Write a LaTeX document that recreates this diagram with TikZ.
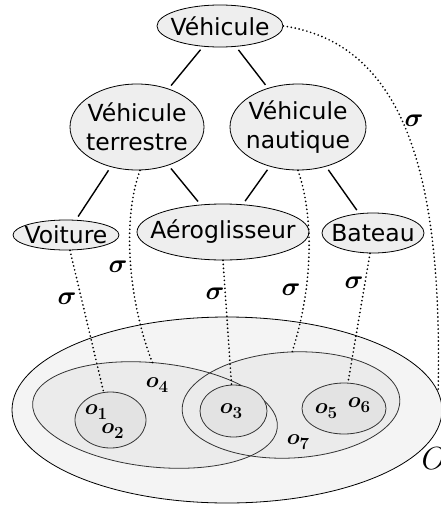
\RequirePackage{fix-cm}
\documentclass[tikz,border=0pt]{standalone}
\usepackage{fontspec}
\setmainfont{DejaVu Sans}
\usepackage{bm}
\usetikzlibrary{shapes.geometric}
\definecolor{clsfill}{HTML}{EEEEEE}
\definecolor{bigfill}{HTML}{F4F4F4}
\definecolor{setfill}{HTML}{EBEBEB}
\definecolor{innerfill}{HTML}{E3E3E3}
\definecolor{setline}{HTML}{333333}
\newcommand{\objlab}[1]{$\bm{o}$\raisebox{-5pt}{\fontsize{17}{19}\selectfont$\bm{#1}$}}
\begin{document}
\begin{tikzpicture}[x=1pt,y=-1pt,
  cls/.style={draw, ellipse, fill=clsfill, line width=0.8pt, inner sep=0pt},
  txt/.style={font=\fontsize{23.5}{29}\selectfont, align=center, inner sep=0pt},
  isa/.style={line width=1.4pt, shorten <=4pt, shorten >=4pt},
  inst/.style={line width=1.9pt, line cap=round, dash pattern=on 0pt off 4pt},
  setE/.style={ellipse, line width=0.8pt, inner sep=0pt},
  lab/.style={font=\fontsize{22}{26}\selectfont, inner sep=0pt},
  sig/.style={font=\fontsize{26}{30}\selectfont, inner sep=0pt},
]
\useasboundingbox (0,0) rectangle (441,509);
% class nodes
\node[cls, minimum width=126pt, minimum height=42pt] (veh) at (220,26) {};
\node[txt] (vehT) at (veh) {Véhicule};
\node[cls, minimum width=134pt, minimum height=86pt] (vt) at (137,127) {};
\node[txt] (vtT) at (vt) {Véhicule\\terrestre};
\node[cls, minimum width=136pt, minimum height=86pt] (vn) at (298,127) {};
\node[txt] (vnT) at (vn) {Véhicule\\nautique};
\node[cls, minimum width=106pt, minimum height=30pt] (voit) at (66,235) {};
\node[txt] (voitT) at (voit) {Voiture};
\node[cls, minimum width=172pt, minimum height=56pt] (aero) at (223,232) {};
\node[txt] (aeroT) at (aero) {Aéroglisseur};
\node[cls, minimum width=102pt, minimum height=40pt] (bat) at (373,233) {};
\node[txt] (batT) at (bat) {Bateau};
% hierarchy
\draw[isa] (veh) -- (vt);
\draw[isa] (veh) -- (vn);
\draw[isa] (vt) -- (voit);
\draw[isa] (vt) -- (aero);
\draw[isa] (vn) -- (aero);
\draw[isa] (vn) -- (bat);
% sets
\node[setE, draw=black, fill=bigfill, minimum width=430pt, minimum height=186pt] (big) at (227,410) {};
\node[setE, fill=setfill, minimum width=246pt, minimum height=104pt, rotate=-6] (o4) at (155,415) {};
\node[setE, fill=setfill, minimum width=218pt, minimum height=106pt, rotate=3] (o7) at (291,405) {};
\node[setE, draw=setline, minimum width=246pt, minimum height=104pt, rotate=-6] (o4line) at (o4) {};
\node[setE, draw=setline, minimum width=218pt, minimum height=106pt, rotate=3] (o7line) at (o7) {};
\node[setE, draw=setline, fill=innerfill, minimum width=71pt, minimum height=56pt] (o12) at (110.5,420) {};
\node[setE, draw=setline, fill=innerfill, minimum width=67pt, minimum height=52pt] (o3) at (233.5,411) {};
\node[setE, draw=setline, fill=innerfill, minimum width=84pt, minimum height=51pt] (o56) at (344,408.5) {};
% instance labels
\node[lab] (l1) at (96,412) {\objlab{1}};
\node[lab] (l2) at (112.5,431) {\objlab{2}};
\node[lab] (l3) at (231,411) {\objlab{3}};
\node[lab] (l4) at (157,385) {\objlab{4}};
\node[lab] (l5) at (326,411) {\objlab{5}};
\node[lab] (l6) at (359,405) {\objlab{6}};
\node[lab] (l7) at (298,442) {\objlab{7}};
\node[inner sep=0pt, font=\fontsize{32}{36}\selectfont] (lO) at (434,459) {$O$};
% sigma links
\draw[inst] (veh.east) .. controls (415,45) and (442,200) .. (big.5);
\draw[inst] ([xshift=4pt]voit.south) -- ([xshift=-7pt]o12.north);
\draw[inst] ([xshift=3pt]vt.south) .. controls (122,220) and (128,300) .. ([xshift=-8pt]o4.north);
\draw[inst] (aero.south) -- ([xshift=-2pt]o3.north);
\draw[inst] (vn.south) .. controls (315,220) and (312,290) .. ([xshift=4pt]o7.north);
\draw[inst] ([xshift=-3pt]bat.south) -- ([xshift=4pt]o56.north);
\node[sig] (s0) at (414,121) {$\bm{\sigma}$};
\node[sig] (s1) at (118,267) {$\bm{\sigma}$};
\node[sig] (s2) at (67,299) {$\bm{\sigma}$};
\node[sig] (s3) at (215,294) {$\bm{\sigma}$};
\node[sig] (s4) at (291,290) {$\bm{\sigma}$};
\node[sig] (s5) at (354,283) {$\bm{\sigma}$};
\end{tikzpicture}
\end{document}
